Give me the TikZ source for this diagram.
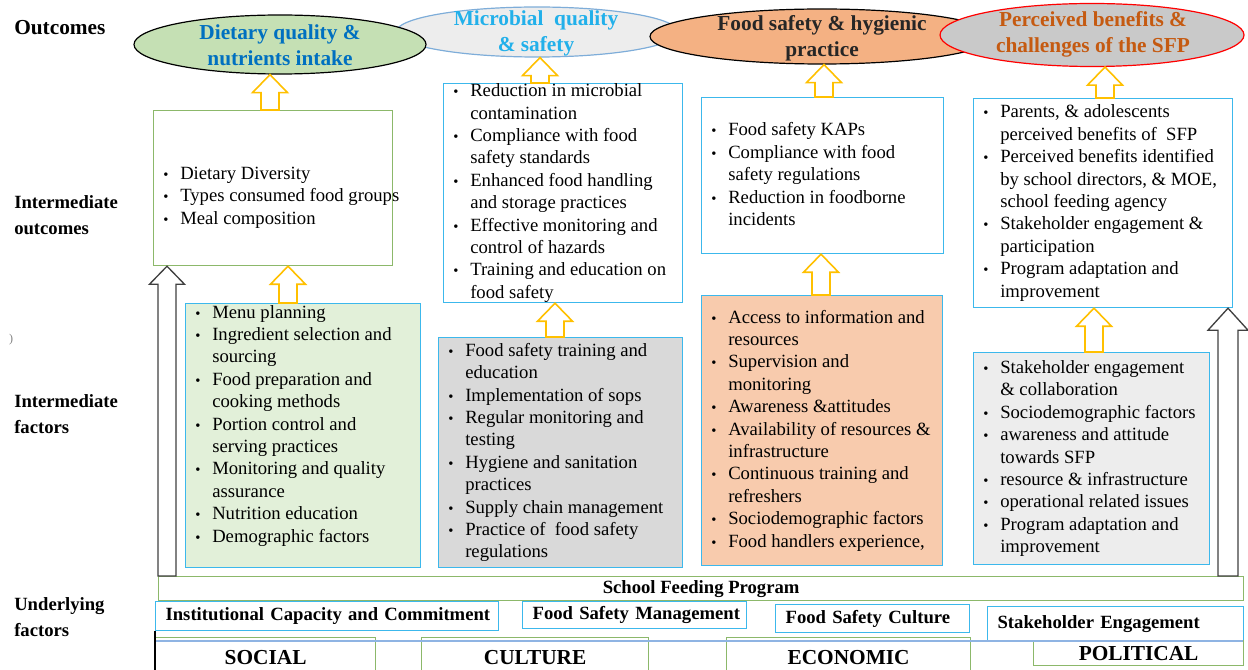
\documentclass[tikz,border=0pt]{standalone}
\usepackage{fontspec}
\setmainfont{Liberation Serif}
\usetikzlibrary{shapes.geometric,calc}
\definecolor{boxgreen}{HTML}{8CB86A}
\definecolor{boxblue}{HTML}{3CB8EC}
\definecolor{dqfill}{HTML}{C5E0B4}
\definecolor{dqtext}{HTML}{0070C0}
\definecolor{mqfill}{HTML}{EDEDED}
\definecolor{mqline}{HTML}{7EADD9}
\definecolor{mqtext}{HTML}{22B0EA}
\definecolor{fsfill}{HTML}{F4B183}
\definecolor{pbfill}{HTML}{C9C9C9}
\definecolor{pbtext}{HTML}{C55A11}
\definecolor{facgreen}{HTML}{E2F0D9}
\definecolor{facgrey}{HTML}{D9D9D9}
\definecolor{facorange}{HTML}{F8CBAD}
\definecolor{faclight}{HTML}{EDEDED}
\definecolor{arrowyellow}{HTML}{FFC000}
\definecolor{arrowgrey}{HTML}{404040}
\definecolor{lineblue}{HTML}{8FB4E3}

% bullet lines
\newcommand\bitem{\makebox[12.75pt][l]{\fontsize{11}{11}\selectfont\textbullet}}
\newcommand\bcont{\hspace*{12.75pt}}
% hollow up arrow: style, x, from, to, shaft half, head half, head length
\newcommand\blockup[7]{%
  \draw[#1] let \p1=(#3), \p2=(#4), \p3=(#2,0) in
    ({\x3-#5},\y1) -- ({\x3-#5},{\y2-#7}) -- ({\x3-#6},{\y2-#7}) -- (\x3,\y2)
    -- ({\x3+#6},{\y2-#7}) -- ({\x3+#5},{\y2-#7}) -- ({\x3+#5},\y1) -- cycle;}

\begin{document}
\begin{tikzpicture}[x=0.75pt,y=-0.75pt,
  cellbox/.style={draw, anchor=north west, inner sep=0pt, line width=0.9pt},
  pxsize/.style 2 args={minimum width=#1*0.75pt, minimum height=#2*0.75pt},
  bullets/.style={anchor=west, align=left, inner sep=0pt, font=\fontsize{14}{16.8}\selectfont},
  outcome/.style={ellipse, inner sep=0pt, line width=0.9pt},
  outlabel/.style={align=center, inner sep=0pt, font=\bfseries\fontsize{16}{19.5}\selectfont},
  rowname/.style={anchor=west, align=left, inner sep=0pt, font=\bfseries\fontsize{14}{19.5}\selectfont},
  yellowup/.style={draw=arrowyellow, fill=white, line width=1.2pt},
  greyup/.style={draw=arrowgrey, fill=white, line width=1pt},
  basebox/.style={cellbox, draw=boxblue, align=left, font=\bfseries\fontsize{14}{16}\selectfont},
  category/.style={cellbox, draw=boxgreen, align=center, font=\bfseries\fontsize{16}{18}\selectfont}]
\useasboundingbox (0,0) rectangle (1248,670);

% row names
\node[rowname, font=\bfseries\fontsize{16}{19.5}\selectfont] (rowout) at (14,28) {Outcomes};
\node[rowname] (rowinto) at (14,215) {Intermediate\\outcomes};
\node[rowname] (rowintf) at (14,414.5) {Intermediate\\factors};
\node[rowname] (rowund) at (14,617.5) {Underlying\\factors};
\node[font=\fontsize{9}{9}\selectfont, text=gray, inner sep=0pt] (stray) at (11,340) {)};

% outcomes
\node[outcome, draw=mqline, fill=mqfill, pxsize={282}{50}] (mq) at (537,32) {};
\node[outlabel, text=mqtext] (mqt) at (536,33) {Microbial~ quality\\\& safety};
\node[outcome, draw=black, fill=dqfill, pxsize={292}{59}] (dq) at (280,44.5) {};
\node[outlabel, text=dqtext] (dqt) at (280,45) {Dietary quality \&\\nutrients intake};
\node[outcome, draw=black, fill=fsfill, pxsize={344}{55}] (fs) at (822,36.5) {};
\node[outlabel, text=black!85] (fst) at (822,38) {Food safety \& hygienic\\practice};
\node[outcome, draw=red, fill=pbfill, pxsize={304}{63}] (pb) at (1092,35) {};
\node[outlabel, text=pbtext] (pbt) at (1093,34) {Perceived benefits \&\\challenges of the SFP};

% intermediate outcomes
\node[cellbox, draw=boxgreen, fill=white, pxsize={239}{155}] (dqbox) at (153,110) {};
\node[bullets, yshift=-7pt] (dqlist) at ([xshift=7.5pt]dqbox.west) {%
\bitem Dietary Diversity\\
\bitem Types consumed food groups\\
\bitem Meal composition};
\node[cellbox, draw=boxblue, fill=white, pxsize={239}{219}] (mqbox) at (443,83) {};
\node[bullets] (mqlist) at ([xshift=7.5pt]mqbox.west) {%
\bitem Reduction in microbial\\
\bcont contamination\\
\bitem Compliance with food\\
\bcont safety standards\\
\bitem Enhanced food handling\\
\bcont and storage practices\\
\bitem Effective monitoring and\\
\bcont control of hazards\\
\bitem Training and education on\\
\bcont food safety};
\node[cellbox, draw=boxblue, fill=white, pxsize={242}{156}] (fsbox) at (701,97) {};
\node[bullets, yshift=1pt] (fslist) at ([xshift=7.5pt]fsbox.west) {%
\bitem Food safety KAPs\\
\bitem Compliance with food\\
\bcont safety regulations\\
\bitem Reduction in foodborne\\
\bcont incidents};
\node[cellbox, draw=boxblue, fill=white, pxsize={259}{209}] (pbbox) at (973,98) {};
\node[bullets] (pblist) at ([xshift=7.5pt]pbbox.west) {%
\bitem Parents, \& adolescents\\
\bcont perceived benefits of~ SFP\\
\bitem Perceived benefits identified\\
\bcont by school directors, \& MOE,\\
\bcont school feeding agency\\
\bitem Stakeholder engagement \&\\
\bcont participation\\
\bitem Program adaptation and\\
\bcont improvement};

% intermediate factors
\node[cellbox, draw=boxblue, fill=facgreen, pxsize={235}{264}] (dqfac) at (185,303) {};
\node[bullets, yshift=7.5pt] (dqfaclist) at ([xshift=7.5pt]dqfac.west) {%
\bitem Menu planning\\
\bitem Ingredient selection and\\
\bcont sourcing\\
\bitem Food preparation and\\
\bcont cooking methods\\
\bitem Portion control and\\
\bcont serving practices\\
\bitem Monitoring and quality\\
\bcont assurance\\
\bitem Nutrition education\\
\bitem Demographic factors};
\node[cellbox, draw=boxblue, fill=facgrey, pxsize={244}{230}] (mqfac) at (438,337) {};
\node[bullets] (mqfaclist) at ([xshift=7.5pt]mqfac.west) {%
\bitem Food safety training and\\
\bcont education\\
\bitem Implementation of sops\\
\bitem Regular monitoring and\\
\bcont testing\\
\bitem Hygiene and sanitation\\
\bcont practices\\
\bitem Supply chain management\\
\bitem Practice of~ food safety\\
\bcont regulations};
\node[cellbox, draw=boxblue, fill=facorange, pxsize={241}{270}] (fsfac) at (701,295) {};
\node[bullets] (fsfaclist) at ([xshift=7.5pt]fsfac.west) {%
\bitem Access to information and\\
\bcont resources\\
\bitem Supervision and\\
\bcont monitoring\\
\bitem Awareness \&attitudes\\
\bitem Availability of resources \&\\
\bcont infrastructure\\
\bitem Continuous training and\\
\bcont refreshers\\
\bitem Sociodemographic factors\\
\bitem Food handlers experience,};
\node[cellbox, draw=boxblue, fill=faclight, pxsize={236}{212}] (pbfac) at (973,352) {};
\node[bullets] (pbfaclist) at ([xshift=7.5pt]pbfac.west) {%
\bitem Stakeholder engagement\\
\bcont \& collaboration\\
\bitem Sociodemographic factors\\
\bitem awareness and attitude\\
\bcont towards SFP\\
\bitem resource \& infrastructure\\
\bitem operational related issues\\
\bitem Program adaptation and\\
\bcont improvement};

% underlying factors
\node[cellbox, draw=boxgreen, pxsize={1085}{24}, align=center, font=\bfseries\fontsize{14}{16}\selectfont] (sfp) at (158,576) {School Feeding Program};
\node[basebox, pxsize={343}{29}, text width=343*0.75pt] (inst) at (155,601) {\hspace*{7.5pt}Institutional Capacity and Commitment};
\node[basebox, pxsize={224}{27}, text width=224*0.75pt] (fsm) at (522,601) {\hspace*{7.5pt}Food Safety Management};
\node[basebox, pxsize={194}{28}, text width=194*0.75pt] (fsc) at (775,604) {\hspace*{7.5pt}Food Safety Culture};
\node[basebox, pxsize={256}{34}, text width=256*0.75pt] (stk) at (987,606) {\hspace*{7.5pt}Stakeholder Engagement};
\node[category, pxsize={220}{40}] (social) at (155,637) {SOCIAL};
\node[category, pxsize={227}{40}] (culture) at (421,637) {CULTURE};
\node[category, pxsize={244}{40}, yshift=3pt] (economic) at (726,641) {ECONOMIC};
\node[category, pxsize={210}{25}] (political) at (1033,640) {POLITICAL};
\draw[lineblue, line width=0.8pt] (155,641) -- (1243,641);
\draw[black, line width=0.8pt] (inst.south west) -- (155,670);

% yellow arrows
\blockup{yellowup}{270}{dqbox.north}{dq.south}{6.75pt}{13.1pt}{13.5pt}
\blockup{yellowup}{540}{mqbox.north}{mq.south}{6.75pt}{13.1pt}{13.5pt}
\blockup{yellowup}{824}{fsbox.north}{fs.south}{6.75pt}{13.1pt}{13.5pt}
\blockup{yellowup}{1105}{pbbox.north}{pb.south}{6.75pt}{13.1pt}{13.5pt}
\blockup{yellowup}{288}{dqfac.north}{dqbox.south}{6.75pt}{13.1pt}{13.5pt}
\blockup{yellowup}{555}{mqfac.north}{mqbox.south}{6.75pt}{13.1pt}{13.5pt}
\blockup{yellowup}{821}{fsfac.north}{fsbox.south}{6.75pt}{13.1pt}{13.5pt}
\blockup{yellowup}{1094}{pbfac.north}{pbbox.south}{6.75pt}{13.1pt}{13.5pt}

% grey arrows
\blockup{greyup}{167}{sfp.north}{dqbox.south}{6.75pt}{13.1pt}{13.5pt}
\blockup{greyup}{1228}{sfp.north}{pbbox.south}{7.5pt}{15pt}{16.5pt}
\end{tikzpicture}
\end{document}
